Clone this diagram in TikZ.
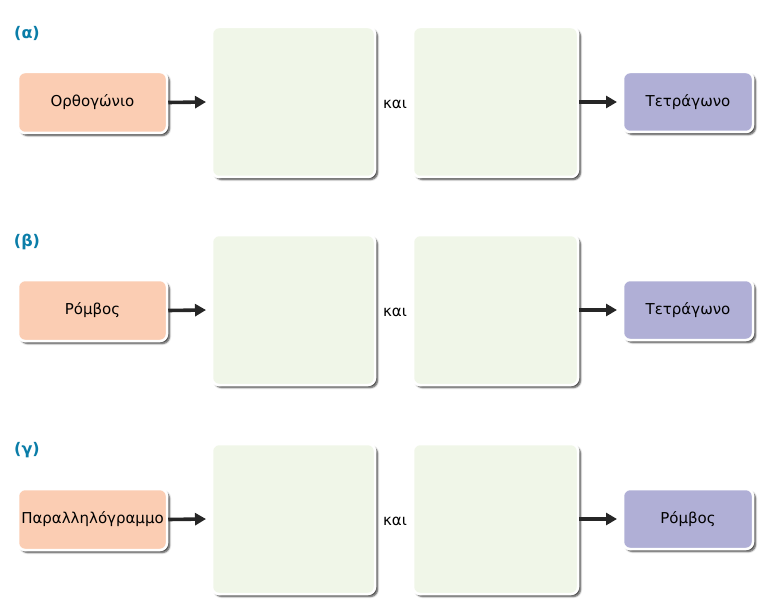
\documentclass[tikz,border=0pt]{standalone}
\usepackage{fontspec}
\setmainfont{DejaVu Sans}
\usetikzlibrary{shadows,arrows.meta,shadows.blur}
\definecolor{peach}{HTML}{FBCDB3}
\definecolor{lav}{HTML}{B0AFD6}
\definecolor{pale}{HTML}{F0F6E8}
\definecolor{teal}{HTML}{0A7DA8}
\tikzset{
  card/.style={draw=white, line width=2.5pt, rounded corners=7pt, inner sep=0pt,
    blur shadow={shadow xshift=2.5pt, shadow yshift=-2.5pt, shadow blur steps=5, shadow opacity=75, shadow blur radius=1.8pt}},
  srcbox/.style={card, fill=peach, minimum width=149pt, minimum height=61pt, font=\fontsize{15}{18}\selectfont},
  dstbox/.style={card, fill=lav, minimum width=130pt, minimum height=60pt, font=\fontsize{15}{18}\selectfont},
  emptybox/.style={card, fill=pale, minimum height=150pt},
  lbl/.style={text=teal, font=\bfseries\fontsize{16}{18}\selectfont},
  andtxt/.style={font=\fontsize{15}{18}\selectfont},
  arr/.style={line width=3.6pt, draw=black!85, -{Triangle[length=11pt,width=12pt]}}
}
\begin{document}
\begin{tikzpicture}[x=1pt,y=-1pt]
\useasboundingbox (0,0) rectangle (776,604);
\foreach \r/\dy/\src/\dst in {a/0/Ορθογώνιο/Τετράγωνο, b/208/Ρόμβος/Τετράγωνο, c/417/Παραλληλόγραμμο/Ρόμβος}{
  \node[srcbox] (s\r) at (92.5,102.5+\dy) {\src};
  \node[emptybox, minimum width=163pt] (g\r) at (293.5,102+\dy) {};
  \node[emptybox, minimum width=165pt] (h\r) at (495.5,102+\dy) {};
  \node[dstbox] (d\r) at (688,102+\dy) {\dst};
  \node[andtxt] (k\r) at (395,104+\dy) {και};
  \coordinate (ea\r) at (206,102+\dy);
  \coordinate (eb\r) at (617,102+\dy);
  \draw[arr] (s\r.east) -- (ea\r);
  \draw[arr] (h\r.east) -- (eb\r);
}
\node[lbl] (la) at (27,33) {(α)};
\node[lbl] (lb) at (27,242) {(β)};
\node[lbl] (lc) at (27,450) {(γ)};
\end{tikzpicture}
\end{document}
